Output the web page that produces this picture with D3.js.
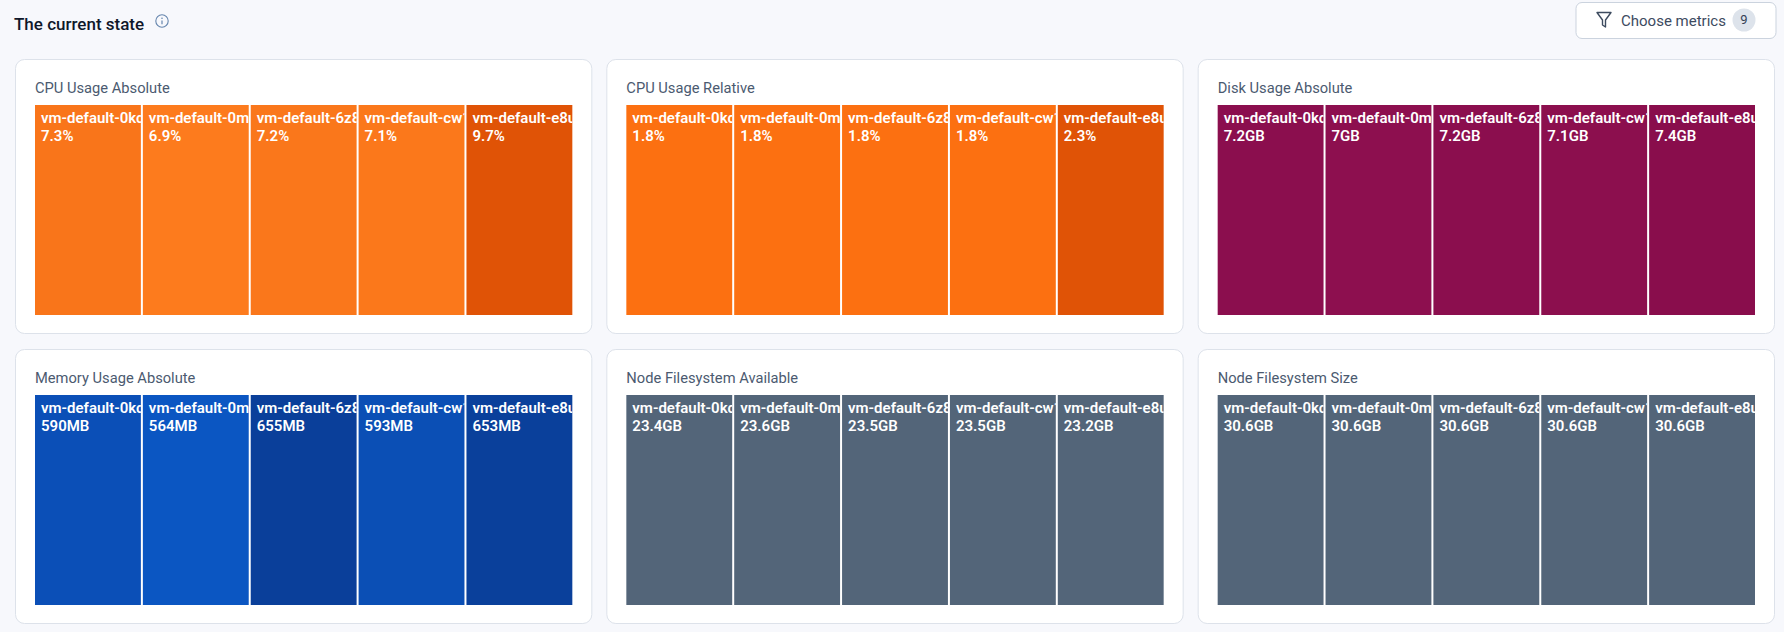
<!DOCTYPE html>
<html lang="en">
<head>
<meta charset="utf-8">
<script src="https://d3js.org/d3.v7.min.js"></script>
<style>
  html, body { margin: 0; padding: 0; background: #f7f8fc; }
  svg { display: block; font-family: Roboto, "Open Sans", sans-serif; }
</style>
</head>
<body>
<div id="chart"></div>
<script>
var w = 1784;
var h = 632;

// data
var hosts = ["vm-default-0kcq", "vm-default-0mlx", "vm-default-6z8b", "vm-default-cw1t", "vm-default-e8ut"];
var metricTitles = ["CPU Usage Absolute", "CPU Usage Relative", "Disk Usage Absolute",
                    "Memory Usage Absolute", "Node Filesystem Available", "Node Filesystem Size"];
var cpuAbs = [7.3, 6.9, 7.2, 7.1, 9.7];
var cpuRel = [1.8, 1.8, 1.8, 1.8, 2.3];
var diskAbs = [7.2, 7, 7.2, 7.1, 7.4];
var memAbs = [590, 564, 655, 593, 653];
var fsAvail = [23.4, 23.6, 23.5, 23.5, 23.2];
var fsSize = [30.6, 30.6, 30.6, 30.6, 30.6];
var units = ["%", "%", "GB", "MB", "GB", "GB"];
var lowColors = ["#fd7b1d", "#fc7011", "#8d0f4f", "#0b56c2", "#536579", "#536579"];
var highColors = ["#e05306", "#e05306", "#890d4c", "#0a3f9a", "#536579", "#536579"];
var metricCount = 9;

var series = [cpuAbs, cpuRel, diskAbs, memAbs, fsAvail, fsSize];

var svg = d3.select("#chart").append("svg")
  .attr("width", w)
  .attr("height", h);

svg.append("rect").attr("width", w).attr("height", h).attr("fill", "#f7f8fc");

// header
svg.append("text")
  .attr("x", 14).attr("y", 30)
  .attr("font-size", 17).attr("font-weight", 500)
  .attr("fill", "#0f172a")
  .text("The current state");

var info = svg.append("g").attr("transform", "translate(162,21)");
info.append("circle").attr("r", 6.2).attr("fill", "none")
  .attr("stroke", "#6585ad").attr("stroke-width", 1.1);
info.append("line").attr("x1", 0).attr("x2", 0).attr("y1", -0.5).attr("y2", 3.2)
  .attr("stroke", "#6585ad").attr("stroke-width", 1.2);
info.append("circle").attr("cy", -2.7).attr("r", 0.8).attr("fill", "#6585ad");

var btn = svg.append("g").attr("transform", "translate(1576,2.5)");
btn.append("rect").attr("width", 200).attr("height", 36).attr("rx", 6)
  .attr("fill", "#fff").attr("stroke", "#cbd3de");
btn.append("path")
  .attr("d", "M21,10 L35,10 L29.5,17.5 L29.5,24.5 L26.5,22.5 L26.5,17.5 Z")
  .attr("fill", "none").attr("stroke", "#3d4b5f").attr("stroke-width", 1.4)
  .attr("stroke-linejoin", "round");
btn.append("text").attr("x", 45).attr("y", 23.5)
  .attr("font-size", 15).attr("fill", "#3d4b5f")
  .text("Choose metrics");
btn.append("circle").attr("cx", 168).attr("cy", 17.5).attr("r", 11.5).attr("fill", "#dde3eb");
btn.append("text").attr("x", 168).attr("y", 21.5).attr("text-anchor", "middle")
  .attr("font-size", 13).attr("fill", "#334155").text(metricCount);

// card grid
var colX = d3.scaleBand().domain([0, 1, 2]).range([15, 1775]).paddingInner(14 / 591);
var rowY = d3.scaleBand().domain([0, 1]).range([59, 624]).paddingInner(15 / 290);

var fmt = d3.format("~g");

series.forEach(function(values, m) {
  var col = m % 3, row = Math.floor(m / 3);
  var g = svg.append("g")
    .attr("transform", "translate(" + colX(col) + "," + rowY(row) + ")");

  g.append("rect")
    .attr("x", 0.5).attr("y", 0.5)
    .attr("width", colX.bandwidth() - 1).attr("height", rowY.bandwidth() - 1)
    .attr("rx", 9).attr("fill", "#fff").attr("stroke", "#dde2ea");

  g.append("text")
    .attr("x", 20).attr("y", 33.5)
    .attr("font-size", 14.7).attr("fill", "#4b5a70")
    .text(metricTitles[m]);

  var tmW = colX.bandwidth() - 40, tmH = rowY.bandwidth() - 65;

  var color = d3.scaleLinear()
    .domain(d3.extent(values))
    .range([lowColors[m], highColors[m]]);

  var root = d3.hierarchy({
      children: hosts.map(function(hn, i) { return { name: hn, value: values[i] }; })
    })
    .sum(function(d) { return d.children ? 0 : 1; });

  d3.treemap()
    .tile(d3.treemapDice)
    .size([tmW, tmH])
    .paddingInner(2)(root);

  var tm = g.append("g").attr("transform", "translate(20,46)");

  var cell = tm.selectAll("g.cell")
    .data(root.leaves())
    .enter().append("g")
    .attr("class", "cell")
    .attr("transform", function(d) { return "translate(" + d.x0 + "," + d.y0 + ")"; });

  cell.append("clipPath")
    .attr("id", function(d, i) { return "clip-" + m + "-" + i; })
    .append("rect")
    .attr("width", function(d) { return d.x1 - d.x0; })
    .attr("height", function(d) { return d.y1 - d.y0; });

  cell.append("rect")
    .attr("width", function(d) { return d.x1 - d.x0; })
    .attr("height", function(d) { return d.y1 - d.y0; })
    .attr("fill", function(d) { return color(d.data.value); });

  var label = cell.append("text")
    .attr("clip-path", function(d, i) { return "url(#clip-" + m + "-" + i + ")"; })
    .attr("font-size", 15).attr("font-weight", 600).attr("fill", "#fff");

  label.append("tspan").attr("x", 6).attr("y", 17.5)
    .text(function(d) { return d.data.name; });
  label.append("tspan").attr("x", 6).attr("y", 35.5)
    .text(function(d) { return fmt(d.data.value) + units[m]; });
});
</script>
</body>
</html>
